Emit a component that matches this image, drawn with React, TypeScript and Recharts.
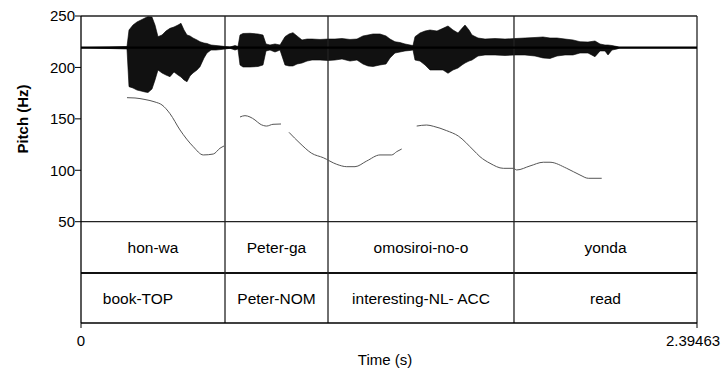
import React from 'react';
import {
  ComposedChart,
  Line,
  Area,
  XAxis,
  YAxis,
  ReferenceLine,
  ReferenceArea,
} from 'recharts';

const X_MAX = 2.39463;
const xTicks = [0, X_MAX];
const yTicks = [50, 100, 150, 200, 250];
const Y_MIN = -48.5;
const Y_MAX = 250;

// Waveform envelope (drawn in the pitch axis units, as Praat overlays it)
const waveCenter = 219.2;
const waveTimes = [
  0, 0.1788, 0.1866, 0.2021, 0.2177, 0.2332, 0.2488, 0.2605, 0.276, 0.2877, 0.2993, 0.3149, 0.3304,
  0.346, 0.3615, 0.3771, 0.3887, 0.4004, 0.4121, 0.4237, 0.4354, 0.4509, 0.4626, 0.4782, 0.4898,
  0.5054, 0.5248, 0.5442, 0.5598, 0.5792, 0.5987, 0.6103, 0.6181, 0.6298, 0.657, 0.6881, 0.7075,
  0.7192, 0.7347, 0.7542, 0.7736, 0.793, 0.8086, 0.8241, 0.8397, 0.8591, 0.8786, 0.898, 0.9291,
  0.9602, 0.9874, 1.0146, 1.0457, 1.0729, 1.0962, 1.1157, 1.1351, 1.1623, 1.1857, 1.2012, 1.2206,
  1.2401, 1.2595, 1.279, 1.2906, 1.2984, 1.3178, 1.3373, 1.3567, 1.3839, 1.4072, 1.4267, 1.4461,
  1.4656, 1.4811, 1.4928, 1.5083, 1.52, 1.5433, 1.5705, 1.6094, 1.6483, 1.6871, 1.726, 1.7649,
  1.796, 1.8232, 1.8504, 1.8815, 1.9126, 1.9398, 1.9709, 1.9981, 2.0176, 2.037, 2.0487, 2.0642,
  2.0836, 2.0953, 2.39463,
];
const waveUpper = [
  219.2, 220.3, 236.4, 241.2, 244.2, 246.1, 248.1, 249.5, 249.0, 241.2, 229.9, 231.5, 235.4,
  238.0, 239.3, 241.2, 242.9, 236.4, 231.5, 230.6, 228.6, 226.7, 225.0, 223.7, 223.3,
  221.8, 221.3, 220.8, 220.3, 219.8, 221.3, 220.3, 231.5, 233.0, 233.2, 232.5, 231.5,
  222.8, 221.8, 222.8, 221.8, 229.9, 232.5, 233.8, 230.6, 226.7, 227.6, 227.6, 227.2,
  227.6, 227.6, 228.1, 227.2, 227.6, 230.6, 231.5, 232.5, 232.5, 230.6, 227.6, 225.0,
  224.2, 222.8, 221.8, 221.3, 229.9, 233.5, 235.4, 236.4, 235.4, 238.0, 240.3, 236.4,
  233.5, 238.0, 241.2, 236.4, 231.5, 228.6, 227.6, 228.1, 227.6, 228.1, 228.6, 229.1,
  229.6, 228.6, 228.6, 227.6, 226.7, 225.0, 224.7, 225.7, 222.8, 221.8, 221.8, 221.3,
  220.3, 219.2, 219.2,
];
const waveLower = [
  219.2, 217.9, 181.3, 180.0, 178.0, 177.1, 176.1, 175.6, 179.0, 187.8, 197.5, 194.6, 192.6,
  191.0, 195.6, 192.6, 190.7, 187.8, 186.1, 191.7, 194.6, 197.5, 200.7, 209.2, 214.0,
  216.9, 216.9, 217.4, 217.9, 218.6, 216.9, 217.9, 202.4, 200.4, 200.4, 200.9, 202.4,
  216.0, 216.9, 215.0, 216.9, 202.4, 201.4, 201.4, 203.3, 204.3, 206.2, 207.2, 207.2,
  206.7, 207.2, 208.2, 206.2, 207.2, 203.3, 201.4, 200.9, 202.4, 203.3, 209.2, 214.0,
  215.0, 216.0, 216.5, 216.9, 207.2, 206.2, 202.4, 197.5, 197.5, 197.5, 194.3, 197.5,
  199.4, 202.4, 204.3, 206.2, 207.2, 211.1, 212.1, 212.1, 211.6, 212.1, 212.1, 211.1,
  209.2, 208.7, 211.1, 212.1, 212.1, 214.0, 214.0, 210.4, 216.0, 216.0, 212.1, 216.9,
  217.9, 219.2, 219.2,
];

// Pitch contour segments (s, Hz)
const pitch1T = [0.1788, 0.2099, 0.2488, 0.2877, 0.3149, 0.346, 0.3849, 0.4366, 0.4754, 0.5143, 0.5403, 0.5559];
const pitch1Hz = [170.6, 170.3, 168.8, 166.4, 163.5, 155.0, 139.2, 122.9, 114.9, 115.8, 121.4, 123.6];
const pitch2T = [0.6181, 0.6375, 0.657, 0.6764, 0.6958, 0.7219, 0.7464, 0.7775];
const pitch2Hz = [151.8, 153.1, 151.8, 148.9, 145.0, 143.0, 144.7, 145.0];
const pitch3T = [0.8086, 0.8513, 0.8968, 0.9419, 0.994, 1.0329, 1.0652, 1.1106, 1.1623, 1.2078, 1.2273, 1.2467];
const pitch3Hz = [136.9, 126.2, 116.5, 112.2, 105.8, 103.5, 103.5, 109.0, 114.9, 114.9, 118.1, 120.7];
const pitch4T = [1.305, 1.3439, 1.3695, 1.4216, 1.4667, 1.525, 1.5511, 1.59, 1.6417, 1.6806, 1.6938, 1.7454, 1.7971, 1.8232, 1.8881, 1.9398, 1.9721, 2.0242];
const pitch4Hz = [143.0, 144.0, 142.8, 138.5, 133.3, 119.7, 113.2, 106.8, 101.9, 101.9, 100.3, 104.2, 107.8, 107.8, 101.9, 95.4, 92.2, 92.2];

// Text grid
const tierBounds = [0, 0.5598, 0.9602, 1.6832, X_MAX];
const words = ['hon-wa', 'Peter-ga', 'omosiroi-no-o', 'yonda'];
const glosses = ['book-TOP', 'Peter-NOM', 'interesting-NL- ACC', 'read'];
const tier1Range = [0, 50];
const tier2Range = [Y_MIN, 0];

const zip = (ts: number[], hs: number[]) => ts.map((t, i) => ({ t, hz: hs[i] }));
const pitchSegments = [zip(pitch1T, pitch1Hz), zip(pitch2T, pitch2Hz), zip(pitch3T, pitch3Hz), zip(pitch4T, pitch4Hz)];
const waveData = waveTimes.map((t, i) => ({ t, range: [waveLower[i], waveUpper[i]] }));

const FONT = 'Liberation Sans, Arial, Helvetica, sans-serif';

const XTick = (props: any) => {
  const { x, y, payload } = props;
  const last = payload.value === X_MAX;
  return (
    <text x={last ? x - 3 : x} y={y} dy="0.71em" textAnchor="middle" fontSize={15} fill="#000" fontFamily={FONT}>
      {String(payload.value)}
    </text>
  );
};

const YLabel = () => (
  <text
    x={22}
    y={119}
    transform="rotate(-90, 22, 119)"
    textAnchor="middle"
    dominantBaseline="central"
    fontWeight="bold"
    fontSize={15}
    fill="#000"
    fontFamily={FONT}
  >
    Pitch (Hz)
  </text>
);

export default function App() {
  return (
    <div style={{ position: 'absolute', left: 0, top: 0, background: '#fff' }}>
      <ComposedChart
        width={722}
        height={371}
        margin={{ top: 16, right: 25, bottom: 8, left: 0 }}
        style={{ fontFamily: FONT }}
      >
        <XAxis
          dataKey="t"
          type="number"
          domain={[0, X_MAX]}
          ticks={xTicks}
          allowDataOverflow
          height={40}
          tickSize={5}
          tickMargin={7}
          tick={<XTick />}
          axisLine={{ stroke: '#000', strokeWidth: 1.5 }}
          tickLine={{ stroke: '#000' }}
          label={{ value: 'Time (s)', position: 'insideBottom', offset: -2, dx: -4, fill: '#000', fontSize: 15 }}
        />
        <YAxis
          type="number"
          domain={[Y_MIN, Y_MAX]}
          ticks={yTicks}
          allowDataOverflow
          width={81}
          tickSize={6}
          tickMargin={0}
          tick={{ fill: '#000', fontSize: 15 }}
          axisLine={{ stroke: '#000', strokeWidth: 1.3 }}
          tickLine={{ stroke: '#000' }}
          label={<YLabel />}
        />
        {/* frame */}
        <ReferenceLine y={Y_MAX} stroke="#222" strokeWidth={1.3} />
        <ReferenceLine x={X_MAX} stroke="#222" strokeWidth={1.3} />
        <ReferenceLine y={tier1Range[1]} stroke="#222" strokeWidth={1.3} />
        <ReferenceLine y={tier1Range[0]} stroke="#111" strokeWidth={2} />
        {tierBounds.slice(1, -1).map((b) => (
          <ReferenceLine key={b} x={b} stroke="#222" strokeWidth={1.3} />
        ))}
        {/* waveform */}
        <ReferenceLine y={waveCenter} stroke="#000" strokeWidth={2.2} />
        <Area
          data={waveData}
          dataKey="range"
          type="linear"
          stroke="#000"
          strokeWidth={0.6}
          fill="#111"
          fillOpacity={1}
          isAnimationActive={false}
          activeDot={false}
        />
        {/* pitch */}
        {pitchSegments.map((seg, i) => (
          <Line
            key={i}
            data={seg}
            dataKey="hz"
            type="monotone"
            stroke="#555"
            strokeWidth={1}
            dot={false}
            activeDot={false}
            isAnimationActive={false}
          />
        ))}
        {/* text grid */}
        {words.map((w, i) => (
          <ReferenceArea
            key={'w' + i}
            x1={tierBounds[i]}
            x2={tierBounds[i + 1]}
            y1={tier1Range[0]}
            y2={tier1Range[1]}
            fill="none"
            stroke="none"
            label={{ value: w, position: 'center', fill: '#000', fontSize: 15.5 }}
          />
        ))}
        {glosses.map((g, i) => (
          <ReferenceArea
            key={'g' + i}
            x1={tierBounds[i]}
            x2={tierBounds[i + 1]}
            y1={tier2Range[0]}
            y2={tier2Range[1]}
            fill="none"
            stroke="none"
            label={{ value: g, position: 'center', fill: '#000', fontSize: 15.5, dx: i === 0 ? -15 : 0 }}
          />
        ))}
      </ComposedChart>
    </div>
  );
}
